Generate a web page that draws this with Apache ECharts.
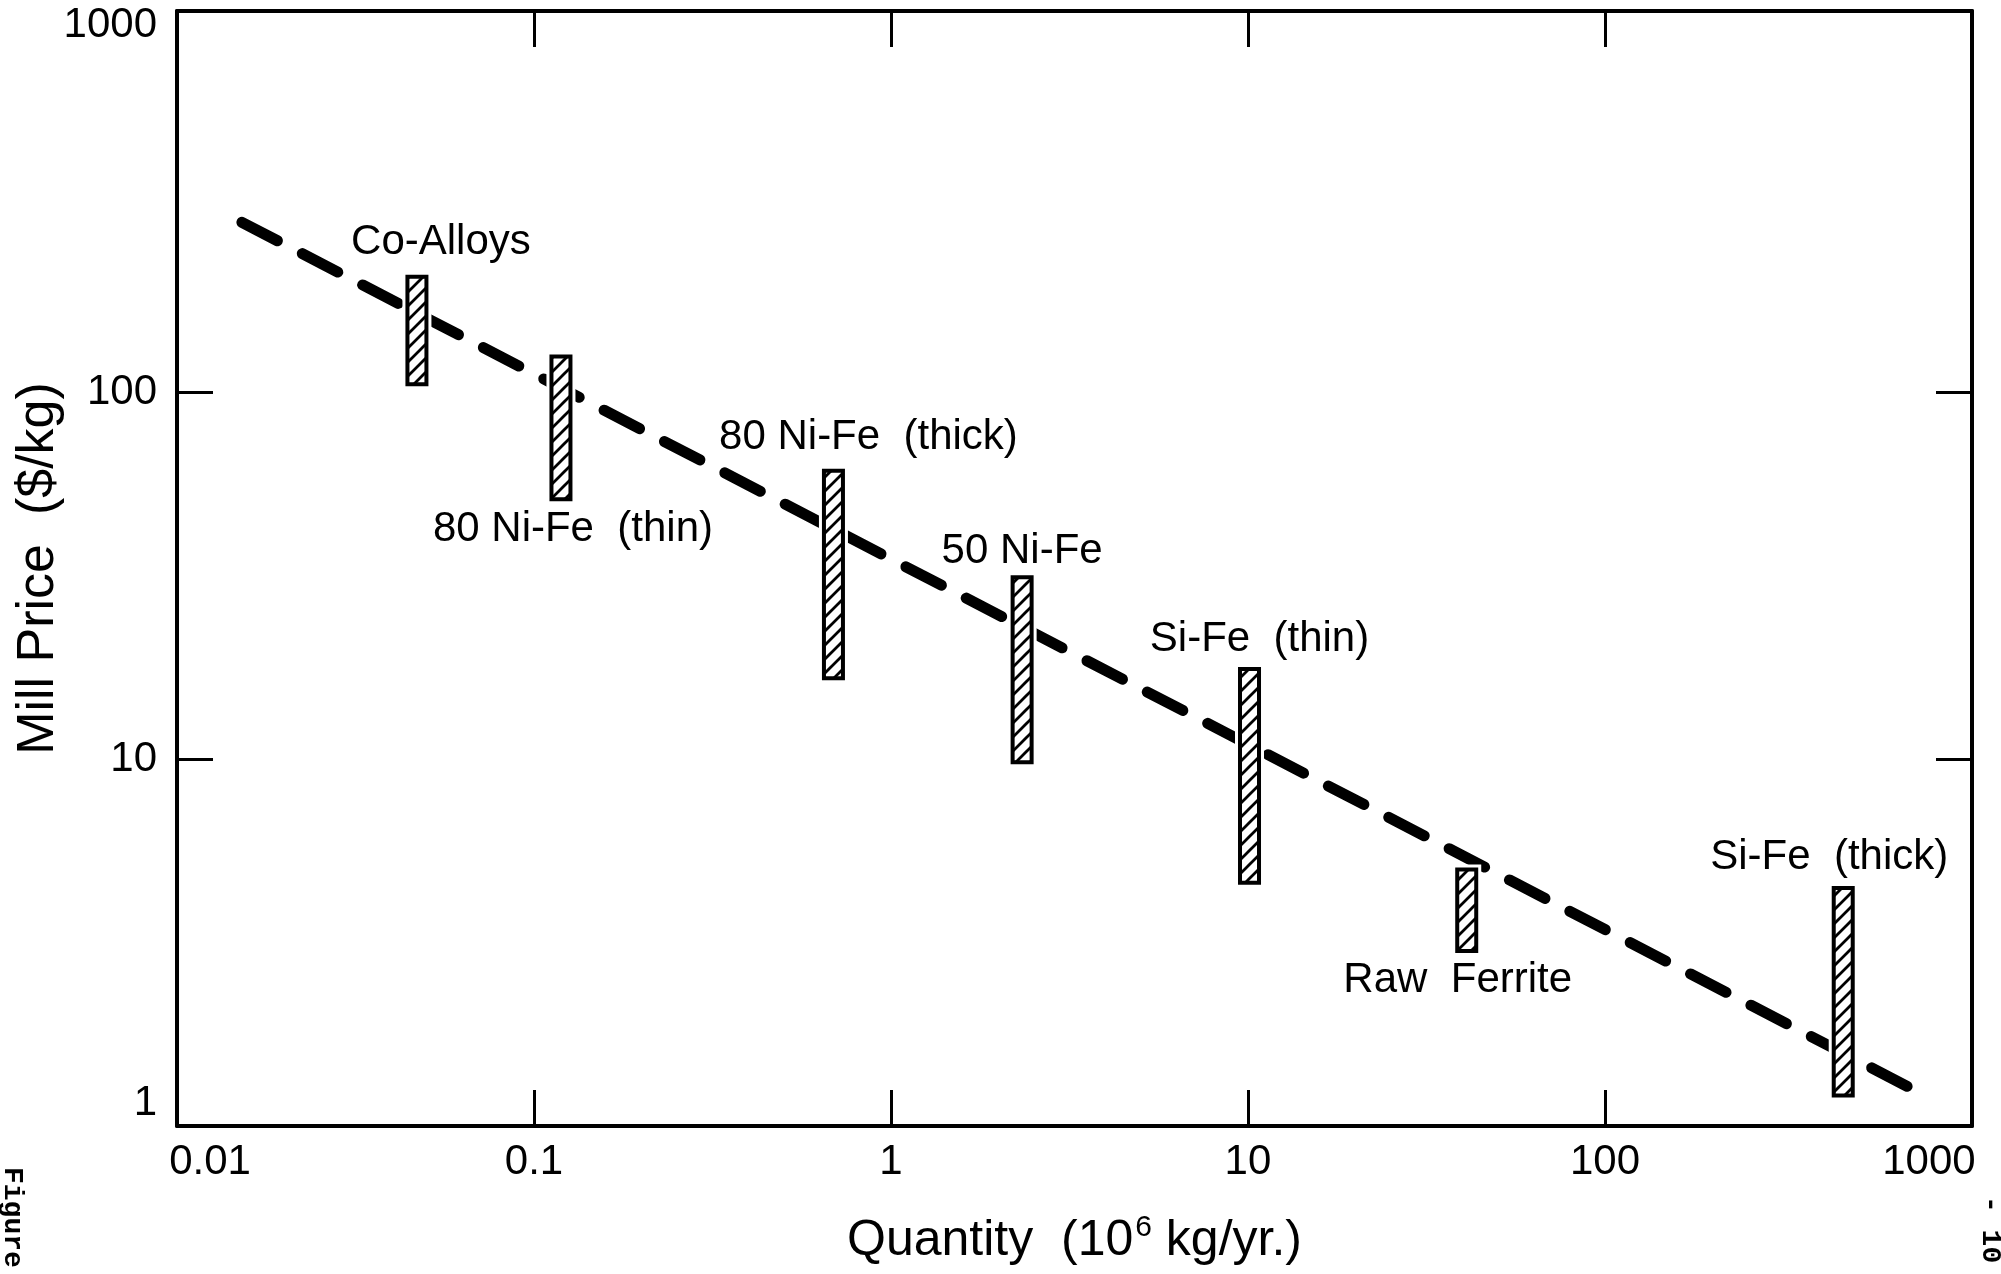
<!DOCTYPE html>
<html><head><meta charset="utf-8">
<script src="https://cdn.jsdelivr.net/npm/echarts@6/dist/echarts.min.js"></script>
<style>html,body{margin:0;padding:0;background:#fff}#c{width:2001px;height:1274px}</style>
</head><body><div id="c"></div>
<script>
// ---- data ----
const materials = ['Co-Alloys', '80 Ni-Fe  (thin)', '80 Ni-Fe  (thick)', '50 Ni-Fe', 'Si-Fe  (thin)', 'Raw  Ferrite', 'Si-Fe  (thick)'];
const quantity  = [0.047, 0.119, 0.69, 2.33, 10.1, 41, 465];      // 10^6 kg/yr
const priceLow  = [105, 51, 16.6, 9.8, 4.6, 3.0, 1.21];            // $/kg
const priceHigh = [206, 125, 61, 31.3, 17.6, 5.0, 4.45];           // $/kg
const trendQuantity = [0.0152, 815];
const trendPrice    = [290, 1.19];
const xLabelValues = [0.01, 0.1, 1, 10, 100, 1000];
const xTickValues  = [0.1, 1, 10, 100];
const yLabelValues = [1, 10, 100, 1000];
const yTickValues  = [10, 100];

// ---- layout / style (not data) ----
const labelLayout = [
  {side: 'top', dx: 24, dy: -34},
  {side: 'bottom', dx: 12, dy: 30},
  {side: 'top', dx: 35, dy: -33},
  {side: 'top', dx: 0, dy: -26},
  {side: 'top', dx: 10, dy: -29},
  {side: 'bottom', dx: -9, dy: 30},
  {side: 'top', dx: -14, dy: -31}
];
const FONT = '"Liberation Sans", Arial, Helvetica, sans-serif';

function makeHatch(size, lw) {
  const c = document.createElement('canvas');
  c.width = size; c.height = size;
  const g = c.getContext('2d');
  g.fillStyle = '#fff'; g.fillRect(0, 0, size, size);
  g.strokeStyle = '#000'; g.lineWidth = lw; g.lineCap = 'square';
  g.beginPath();
  g.moveTo(-size / 2, size / 2); g.lineTo(size / 2, -size / 2);
  g.moveTo(0, size); g.lineTo(size, 0);
  g.moveTo(size / 2, size * 1.5); g.lineTo(size * 1.5, size / 2);
  g.stroke();
  return c;
}
const hatchPattern = {image: makeHatch(14, 2.8), repeat: 'repeat'};

const barData = quantity.map((q, i) => [q, priceLow[i], priceHigh[i]]);
const trendData = trendQuantity.map((q, i) => [q, trendPrice[i]]);

const isPow = (v, p) => Math.abs(Math.log10(v) - p) < 1e-6;

const tickStyle = {show: true, inside: true, length: 36, lineStyle: {color: '#000', width: 3}};
const lineStyleAxis = {show: true, onZero: false, lineStyle: {color: '#000', width: 4}};

const chart = echarts.init(document.getElementById('c'), null, {renderer: 'canvas'});
chart.setOption({
  animation: false,
  backgroundColor: '#fff',
  grid: {left: 177, right: 29, top: 11, bottom: 148, containLabel: false, outerBoundsMode: 'none'},
  xAxis: [{
    type: 'log', logBase: 10, min: 0.01, max: 1067, position: 'bottom',
    axisLine: lineStyleAxis,
    axisTick: Object.assign({customValues: xTickValues}, tickStyle),
    minorTick: {show: false}, splitLine: {show: false},
    axisLabel: {
      customValues: xLabelValues, margin: 15, color: '#000', fontSize: 42, fontFamily: FONT,
      formatter: v => {
        if (isPow(v, -2)) return '{l|0.01}';
        if (isPow(v, 3)) return '{r|1000}';
        return '{n|' + String(+v.toPrecision(6)) + '}';
      },
      rich: {
        n: {fontSize: 42, fontFamily: FONT, color: '#000'},
        l: {fontSize: 42, fontFamily: FONT, color: '#000', padding: [0, 0, 0, 66]},
        r: {fontSize: 42, fontFamily: FONT, color: '#000', padding: [0, 66, 0, 0]}
      }
    },
    name: '{a|Quantity  (10}{s|6}{a| kg/yr.)}',
    nameLocation: 'middle', nameGap: 87, nameMoveOverlap: false,
    nameTextStyle: {
      color: '#000', fontSize: 50, fontFamily: FONT,
      rich: {
        a: {fontSize: 50, fontFamily: FONT, color: '#000', lineHeight: 56},
        s: {fontSize: 30, fontFamily: FONT, color: '#000', verticalAlign: 'top', lineHeight: 56, padding: [0, 0, 0, 2]}
      }
    }
  }, {
    type: 'log', logBase: 10, min: 0.01, max: 1067, position: 'top',
    axisLine: lineStyleAxis,
    axisTick: Object.assign({customValues: xTickValues}, tickStyle),
    minorTick: {show: false}, splitLine: {show: false}, axisLabel: {show: false}
  }],
  yAxis: [{
    type: 'log', logBase: 10, min: 1, max: 1092, position: 'left',
    axisLine: lineStyleAxis,
    axisTick: Object.assign({customValues: yTickValues}, tickStyle),
    minorTick: {show: false}, splitLine: {show: false},
    axisLabel: {
      customValues: yLabelValues, margin: 20, color: '#000', fontSize: 42, fontFamily: FONT,
      formatter: v => isPow(v, 0) ? '{b|1}' : '{n|' + String(Math.round(v)) + '}',
      rich: {
        n: {fontSize: 42, fontFamily: FONT, color: '#000'},
        b: {fontSize: 42, fontFamily: FONT, color: '#000', padding: [0, 0, 46, 0]}
      }
    },
    name: 'Mill Price  ($/kg)',
    nameLocation: 'middle', nameRotate: 90, nameGap: 112, nameMoveOverlap: false,
    nameTextStyle: {color: '#000', fontSize: 52, fontFamily: FONT}
  }, {
    type: 'log', logBase: 10, min: 1, max: 1092, position: 'right',
    axisLine: lineStyleAxis,
    axisTick: Object.assign({customValues: yTickValues}, tickStyle),
    minorTick: {show: false}, splitLine: {show: false}, axisLabel: {show: false}
  }],
  series: [{
    type: 'line', xAxisIndex: 0, yAxisIndex: 0, data: trendData,
    symbol: 'none', z: 1, zlevel: 0, silent: true,
    lineStyle: {color: '#000', width: 11, type: [40, 28], cap: 'round'}
  }, {
    type: 'custom', xAxisIndex: 0, yAxisIndex: 0, data: barData, z: 10, zlevel: 0, clip: false,
    renderItem: (params, api) => {
      const i = params.dataIndex;
      const x = api.value(0), lo = api.value(1), hi = api.value(2);
      const pTop = api.coord([x, hi]);
      const pBot = api.coord([x, lo]);
      const w = 19;
      const L = labelLayout[i];
      const ty = (L.side === 'top' ? pTop[1] : pBot[1]) + L.dy;
      const shape = {x: pTop[0] - w / 2, y: pTop[1], width: w, height: pBot[1] - pTop[1]};
      return {
        type: 'group',
        children: [{
          type: 'rect', z2: 1, shape: shape,
          style: {fill: '#fff', stroke: '#fff', lineWidth: 10}
        }, {
          type: 'rect', z2: 2, shape: shape,
          style: {fill: hatchPattern, stroke: '#000', lineWidth: 4}
        }, {
          type: 'text', z2: 3,
          style: {
            text: materials[i], x: pTop[0] + L.dx, y: ty,
            align: 'center', verticalAlign: 'middle',
            font: '42px ' + FONT, fill: '#000'
          }
        }]
      };
    }
  }],
  graphic: [{
    type: 'text', x: 12, y: 1167, rotation: -Math.PI / 2,
    style: {text: 'Figure', font: 'bold 28px "Liberation Mono", monospace', fill: '#000', align: 'left', verticalAlign: 'middle'}
  }, {
    type: 'text', x: 1990, y: 1196, rotation: -Math.PI / 2,
    style: {text: '- 10', font: 'bold 28px "Liberation Mono", monospace', fill: '#000', align: 'left', verticalAlign: 'middle'}
  }]
});
</script></body></html>
